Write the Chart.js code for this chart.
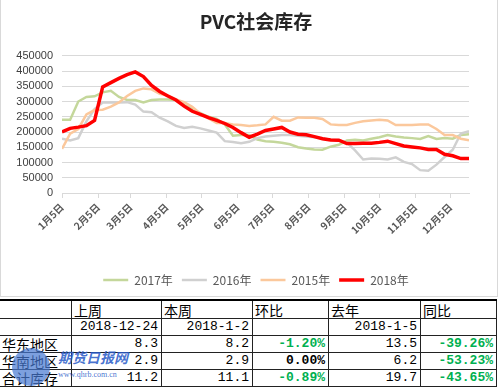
<!DOCTYPE html>
<html>
<head>
<meta charset="utf-8">
<script src="https://cdn.jsdelivr.net/npm/chart.js@4"></script>
<style>
  body { margin: 0; background: #fff; width: 500px; height: 390px; overflow: hidden; position: relative; font-family: "Noto Sans CJK SC", sans-serif; }
  #box { position: absolute; left: 0; top: 0; width: 496px; height: 296px; border: 1px solid #d9d9d9; border-top: none; }
  #table { position: absolute; left: 0; top: 299px; border-collapse: collapse; table-layout: fixed; }
  #table td { border: 1px solid #222; padding: 0 3px; height: 16px; line-height: 16px; font-family: "Liberation Mono", monospace; font-size: 13px; color: #000; text-align: right; white-space: nowrap; overflow: hidden; }
  #table tr:first-child td { border-top: 2px solid #000; height: 17px; }
  #table td.cn { font-family: "Noto Sans CJK SC", sans-serif; font-size: 14px; text-align: left; padding-left: 2px; }
  #table td.first { border-left: none; }
  #table td.pos { color: #00b050; font-weight: bold; }
  #table td.zero { font-weight: bold; }
  #mark { position: absolute; left: 12px; top: 346px; width: 130px; height: 42px; pointer-events: none; white-space: nowrap; }
  #mark .logo { position: absolute; left: 0; top: 2px; width: 38px; height: 38px; border-radius: 50%; background: rgba(70,120,210,0.7); }
  #mark .name { position: absolute; left: 46px; top: 2px; font-size: 14px; font-weight: bold; font-style: italic; color: rgba(40,90,200,0.85); font-family: "Noto Sans CJK SC", sans-serif; line-height: 18px; }
  #mark .url { position: absolute; left: 46px; top: 24px; font-size: 8px; color: rgba(40,90,200,0.85); font-family: "Liberation Serif", serif; }
</style>
</head>
<body>
<div id="box"><canvas id="chart" width="496" height="296"></canvas></div>
<table id="table"></table>
<div id="mark"><div class="logo"></div><div class="name">期货日报网</div><div class="url">www.qhrb.com.cn</div></div>
<script>
// week offsets (days from 1月5日)
var weekDays = [0,7,14,21,28,35,42,49,56,63,70,77,84,91,98,105,112,119,126,133,140,147,154,161,168,175,182,189,196,203,210,217,224,231,238,245,252,259,266,273,280,287,294,301,308,315,322,329,336,343,350];

// month tick positions and labels
var tickDays = [0,31,59,90,120,151,181,212,243,273,304,334];
var tickLabels = ["1月5日","2月5日","3月5日","4月5日","5月5日","6月5日","7月5日","8月5日","9月5日","10月5日","11月5日","12月5日"];

var seriesNames = ["2017年","2016年","2015年","2018年"];

var data2017 = [240000,240000,300000,315000,317000,330000,335000,315000,305000,305000,297000,305000,307000,307000,305000,290000,275000,262000,250000,243000,225000,188000,190000,190000,175000,170000,168000,165000,160000,150000,146000,143000,142000,152000,158000,172000,175000,172000,178000,183000,190000,185000,182000,180000,177000,187000,177000,180000,178000,190000,193000];
var data2016 = [178000,172000,180000,235000,275000,297000,297000,297000,298000,290000,267000,265000,247000,235000,220000,213000,217000,212000,205000,198000,170000,167000,163000,168000,180000,185000,188000,190000,190000,188000,185000,183000,180000,175000,173000,165000,140000,110000,113000,112000,110000,117000,102000,95000,75000,73000,93000,118000,142000,195000,203000];
var data2015 = [145000,195000,210000,258000,272000,273000,283000,297000,318000,335000,343000,340000,325000,320000,307000,298000,283000,260000,245000,230000,230000,225000,223000,220000,222000,225000,250000,237000,237000,248000,247000,247000,243000,225000,223000,223000,230000,235000,238000,240000,238000,223000,223000,223000,225000,225000,210000,190000,190000,178000,173000];
var data2018 = [200000,212000,216000,221000,238000,348000,362000,376000,388000,397000,382000,353000,333000,318000,305000,285000,268000,258000,247000,238000,228000,215000,198000,183000,193000,205000,210000,215000,200000,193000,191000,185000,178000,174000,173000,162000,162000,163000,163000,166000,170000,162000,154000,151000,148000,143000,143000,127000,122000,113000,113000];

// table values
var tableHead = ["", "上周", "本周", "环比", "去年", "同比"];
var tableDates = ["", "2018-12-24", "2018-1-2", "", "2018-1-5", ""];
var regions = ["华东地区", "华南地区", "合计库存"];
var lastWeek = ["8.3", "2.9", "11.2"];
var thisWeek = ["8.2", "2.9", "11.1"];
var weekChange = ["-1.20%", "0.00%", "-0.89%"];
var lastYear = ["13.5", "6.2", "19.7"];
var yearChange = ["-39.26%", "-53.23%", "-43.65%"];

var colors = ["#c4d79b", "#d0d0d0", "#fbc89c", "#ff0000"];
var widths = [2.5, 2.5, 2.5, 3.5];
var orders = [4, 3, 2, 1];
var allData = [data2017, data2016, data2015, data2018];

function toPoints(arr) {
  return arr.map(function(v, i) { return { x: weekDays[i], y: v }; });
}

var datasets = seriesNames.map(function(name, k) {
  return {
    label: name,
    data: toPoints(allData[k]),
    borderColor: colors[k],
    backgroundColor: colors[k],
    borderWidth: widths[k],
    pointRadius: 0,
    pointStyle: "line",
    tension: 0,
    order: orders[k],
    yAxisID: "y"
  };
});

new Chart(document.getElementById("chart").getContext("2d"), {
  type: "line",
  data: { datasets: datasets },
  options: {
    responsive: false,
    animation: false,
    layout: { padding: { left: 14, right: 0, top: 0, bottom: 0 } },
    plugins: {
      title: {
        display: true,
        text: "PVC社会库存",
        color: "#262626",
        font: { size: 19, weight: "bold", family: "'Noto Sans CJK SC', sans-serif" },
        padding: { top: 10, bottom: 23 }
      },
      legend: {
        position: "bottom",
        labels: {
          usePointStyle: true,
          pointStyle: "line",
          pointStyleWidth: 25,
          boxHeight: 12,
          padding: 9,
          color: "#595959",
          font: { size: 12, family: "'Noto Sans CJK SC', sans-serif" },
          sort: function(a, b) { return a.datasetIndex - b.datasetIndex; }
        }
      },
      tooltip: { enabled: false }
    },
    scales: {
      x: {
        type: "linear",
        min: 0,
        max: 350,
        afterBuildTicks: function(scale) {
          scale.ticks = tickDays.map(function(d) { return { value: d }; });
        },
        afterFit: function(scale) { scale.height = 72; },
        grid: { drawOnChartArea: false, color: "#d9d9d9", tickLength: 5 },
        border: { color: "#d9d9d9" },
        ticks: {
          autoSkip: false,
          maxRotation: 45,
          minRotation: 45,
          color: "#595959",
          font: { size: 10, weight: "bold", family: "'Noto Sans CJK SC', sans-serif" },
          callback: function(value) {
            var i = tickDays.indexOf(value);
            return i >= 0 ? tickLabels[i] : "";
          }
        }
      },
      y: {
        min: 0,
        max: 450000,
        afterFit: function(scale) { scale.width = 47; },
        grid: { color: "#d9d9d9", drawTicks: false },
        border: { display: false },
        ticks: {
          stepSize: 50000,
          autoSkip: false,
          padding: 9,
          color: "#404040",
          font: { size: 11, family: "'Liberation Sans', sans-serif" },
          callback: function(value) { return String(value); }
        }
      },
      // empty right-side spacer so the plot ends where the reference ends
      y2: {
        position: "right",
        afterFit: function(scale) { scale.width = 28; },
        grid: { display: false },
        border: { display: false },
        ticks: { display: false }
      }
    }
  }
});

// table
var table = document.getElementById("table");
var colWidths = [72, 90, 91, 76, 92, 76];
function addRow(cells, classes) {
  var tr = document.createElement("tr");
  cells.forEach(function(text, c) {
    var td = document.createElement("td");
    td.textContent = text;
    td.style.width = (colWidths[c] - 7) + "px";
    var cls = (classes && classes[c]) || "";
    if (c === 0) cls += " first";
    td.className = cls;
    tr.appendChild(td);
  });
  table.appendChild(tr);
}
addRow(tableHead, ["cn", "cn", "cn", "cn", "cn", "cn"]);
addRow(tableDates, []);
regions.forEach(function(r, i) {
  var wc = weekChange[i] === "0.00%" ? "zero" : "pos";
  addRow([r, lastWeek[i], thisWeek[i], weekChange[i], lastYear[i], yearChange[i]], ["cn", "", "", wc, "", "pos"]);
});
</script>
</body>
</html>
